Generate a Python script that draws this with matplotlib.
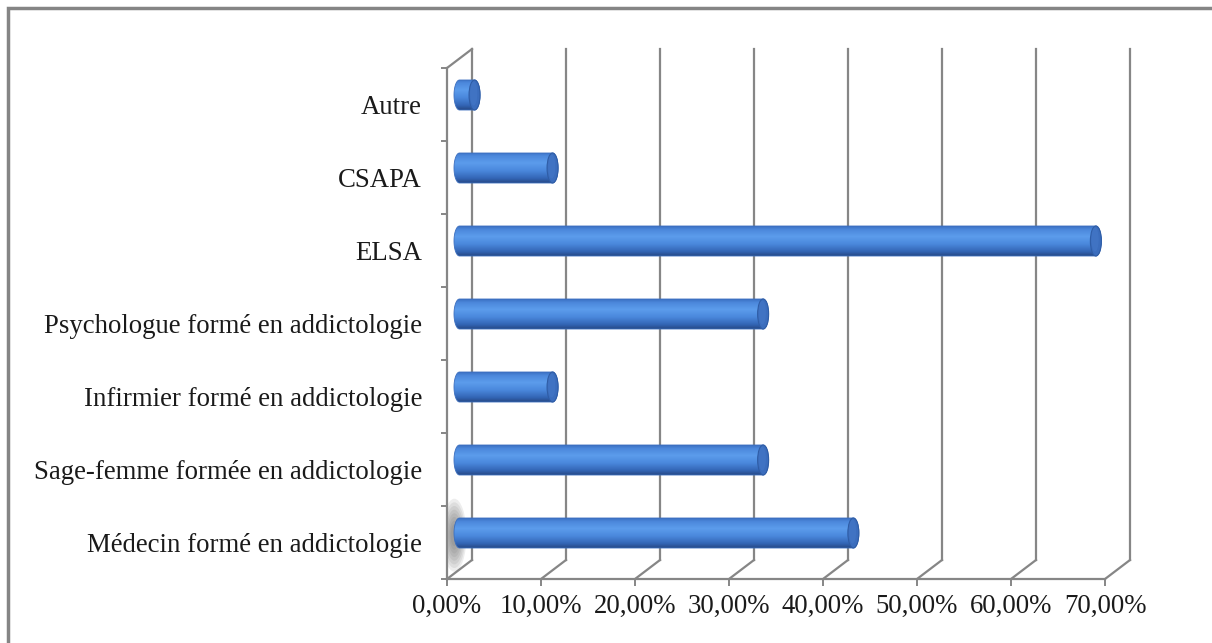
import numpy as np
import matplotlib
matplotlib.use("Agg")
import matplotlib.pyplot as plt
from matplotlib.path import Path
from matplotlib.patches import PathPatch, Ellipse, Rectangle
from matplotlib.lines import Line2D
from matplotlib.colors import LinearSegmentedColormap
import matplotlib.transforms as mtransforms

# ---- data ----
categories = ["Médecin formé en addictologie",
              "Sage-femme formée en addictologie",
              "Infirmier formé en addictologie",
              "Psychologue formé en addictologie",
              "ELSA",
              "CSAPA",
              "Autre"]
values = [41.9, 32.3, 9.9, 32.3, 67.7, 9.9, 1.6]
xticks = [0, 10, 20, 30, 40, 50, 60, 70]
xtick_labels = ["0,00%", "10,00%", "20,00%", "30,00%", "40,00%", "50,00%", "60,00%", "70,00%"]

W, H = 1212, 643
DPI = 100
fig = plt.figure(figsize=(W / DPI, H / DPI), dpi=DPI)
fig.patch.set_facecolor("white")

# front plane of the plot (pixels)
L, R, T, B = 447, 1105, 68, 579
ax = fig.add_axes([L / W, 1 - B / H, (R - L) / W, (B - T) / H])
ax.set_facecolor("none")
n = len(categories)
ax.set_xlim(0, 70)
ax.set_ylim(-0.5, n - 0.5)

GRID = "#868686"
FONT = "Liberation Serif"
FS_Y = 19.3
FS_X = 19.3

px_x = (R - L) / 70.0          # pixels per percent
px_y = (B - T) / n             # pixels per category

# depth offset (back plane) in pixels
DX, DY = 25, 19
back = mtransforms.offset_copy(ax.transData, fig=fig, x=DX, y=DY, units="dots")

# spines
for s in ["top", "right"]:
    ax.spines[s].set_visible(False)
for s in ["left", "bottom"]:
    ax.spines[s].set_color(GRID)
    ax.spines[s].set_linewidth(1.6)

# ticks
ax.set_xticks(xticks)
ax.set_xticklabels(xtick_labels, fontfamily=FONT, fontsize=FS_X, color="#1a1a1a")
ax.tick_params(axis="x", direction="out", length=5, width=1.4, color=GRID, pad=6)
ax.set_yticks(np.arange(n))
ax.set_yticklabels(categories, fontfamily=FONT, fontsize=FS_Y, color="#1a1a1a")
ax.tick_params(axis="y", which="major", length=0, pad=18)
ax.set_yticks(np.arange(n + 1) - 0.5, minor=True)
ax.tick_params(axis="y", which="minor", direction="out", length=4, width=1.4, color=GRID)

# back gridlines and depth diagonals
y0, y1 = -0.5, n - 0.5
for xv in xticks:
    ax.add_line(Line2D([xv, xv], [y0, y1], transform=back, color=GRID, lw=1.6, clip_on=False))
    p0 = ax.transData.transform((xv, y0))
    p1 = back.transform((xv, y0))
    ax.add_line(Line2D([p0[0], p1[0]], [p0[1], p1[1]], transform=None, color=GRID, lw=1.6, clip_on=False))
p0 = ax.transData.transform((0, y1))
p1 = back.transform((0, y1))
ax.add_line(Line2D([p0[0], p1[0]], [p0[1], p1[1]], transform=None, color=GRID, lw=1.6, clip_on=False))

# ---- cylinders ----
mid_dx = 12.5 / px_x
mid_dy = 9.5 / px_y
cap_a = 5.5 / px_x            # half width of end ellipse
bar_h = 30.0 / px_y

grad_cmap = LinearSegmentedColormap.from_list(
    "cyl", [(0.0, "#3a6fc2"), (0.12, "#4c88dc"), (0.35, "#5c9cec"),
            (0.6, "#4a88dc"), (0.85, "#3365b5"), (1.0, "#264884")])
grad = np.linspace(0, 1, 256).reshape(-1, 1)

def cyl_path(x0, x1, yc, a, h):
    t = np.linspace(np.pi / 2, 3 * np.pi / 2, 40)
    left = np.column_stack([x0 + a * np.cos(t), yc + h / 2 * np.sin(t)])
    t2 = np.linspace(-np.pi / 2, np.pi / 2, 40)
    right = np.column_stack([x1 + a * np.cos(t2), yc + h / 2 * np.sin(t2)])
    verts = np.vstack([left, right, left[:1]])
    codes = [Path.MOVETO] + [Path.LINETO] * (len(verts) - 2) + [Path.CLOSEPOLY]
    return Path(verts, codes)

# soft shadow near the first bar's left end
for k in range(8):
    sc = 1.0 - k * 0.1
    ax.add_patch(Ellipse((mid_dx - 0.55, 0 + mid_dy - 0.03), 2.6 * sc, 1.0 * sc,
                         facecolor="#606060", edgecolor="none", alpha=0.11, zorder=2))

for i, v in enumerate(values):
    yc = i + mid_dy
    x0 = 0 + mid_dx
    x1 = v + mid_dx
    path = cyl_path(x0, x1, yc, cap_a, bar_h)
    patch = PathPatch(path, facecolor="none", edgecolor="#3c6fbf", lw=0.6, zorder=4)
    ax.add_patch(patch)
    im = ax.imshow(grad, cmap=grad_cmap, aspect="auto", origin="upper",
                   extent=[x0 - cap_a, x1 + cap_a, yc - bar_h / 2, yc + bar_h / 2],
                   zorder=3, interpolation="bilinear")
    im.set_clip_path(patch)
    ax.add_patch(Ellipse((x1, yc), 2 * cap_a, bar_h, facecolor="#3b6dbd",
                         edgecolor="#2f5da6", lw=0.8, zorder=5))
    ax.add_patch(Ellipse((x1 - cap_a * 0.15, yc + bar_h * 0.05), 1.3 * cap_a, bar_h * 0.8,
                         facecolor="#4478c8", edgecolor="none", alpha=0.6, zorder=5))

ax.set_xlim(0, 70)
ax.set_ylim(-0.5, n - 0.5)

# outer chart frame (top and left visible)
fig.add_artist(Rectangle((8 / W, -0.1), 1.2, 1 - 8 / H + 0.1, transform=fig.transFigure,
                         facecolor="none", edgecolor="#858585", lw=2.5))

fig.savefig("out.png", dpi=DPI, facecolor="white")
